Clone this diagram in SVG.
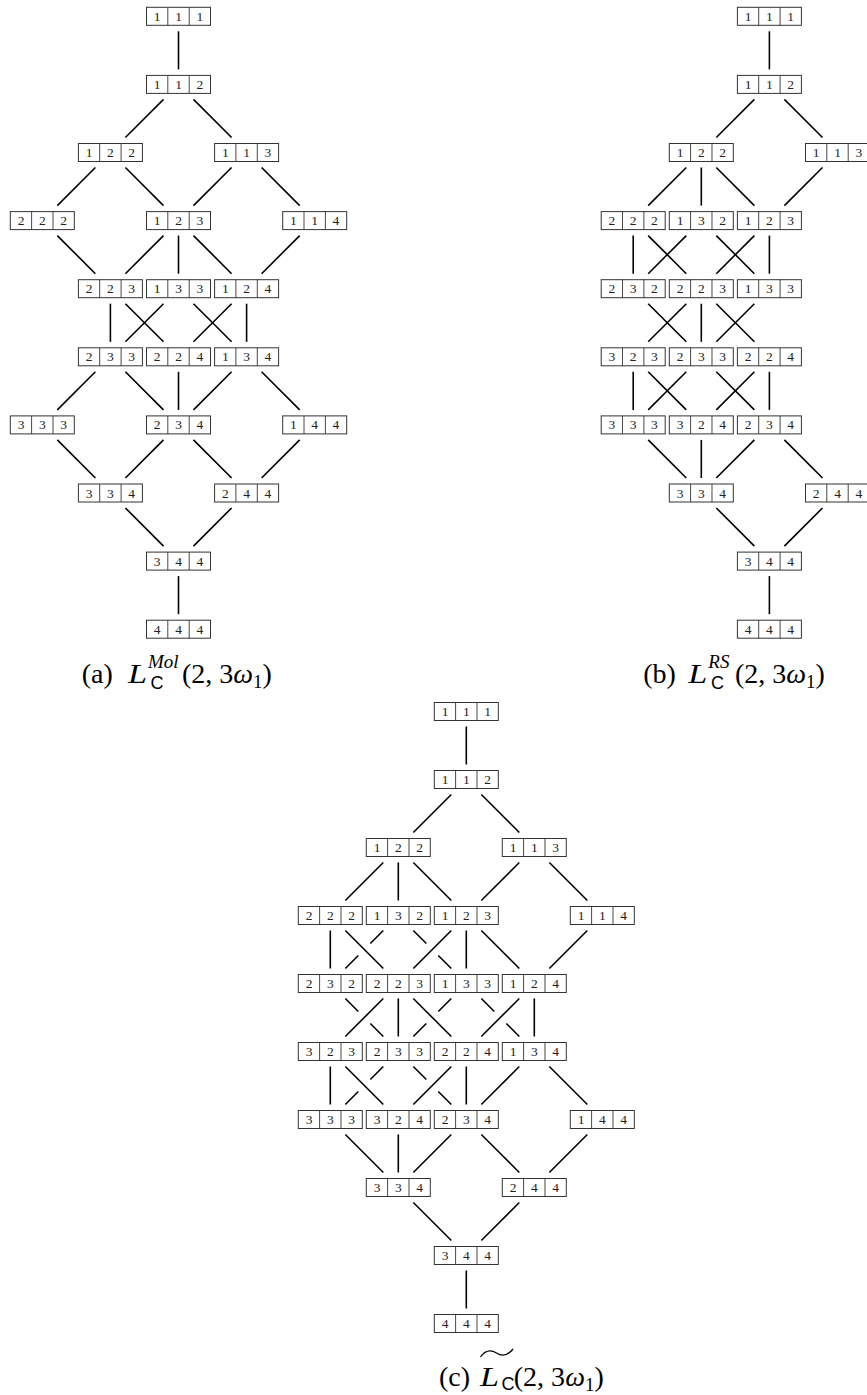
<svg xmlns="http://www.w3.org/2000/svg" xmlns:xlink="http://www.w3.org/1999/xlink" width="867" height="1395" viewBox="0 0 867 1395">
<style>
.bxr{fill:#fff;stroke:#333;stroke-width:1}
.bxd{stroke:#333;stroke-width:0.9;fill:none}
.n text{font-family:"Liberation Serif",serif;font-size:13.5px;text-anchor:middle;fill:#222}
.e line{stroke:#000;stroke-width:1.6;fill:none;stroke-linecap:butt}
.cap{font-family:"Liberation Serif",serif;font-size:28px;fill:#000}
.it{font-style:italic}
.sup{font-family:"Liberation Serif",serif;font-size:19px;font-style:italic;fill:#000}
.sub{font-family:"Liberation Sans",sans-serif;font-size:18px;fill:#000}
.tl{stroke:#000;stroke-width:1.3;fill:none}
</style>
<defs>
<g id="bx"><rect class="bxr" x="-32" y="-9" width="64" height="18"/><path class="bxd" d="M-10.7-9v18M10.7-9v18"/></g>
</defs>
<rect width="867" height="1395" fill="#fff"/>

<!-- ===== (a) connectors ===== -->
<g id="a-edges" class="e">
<line x1="178.5" y1="31.3" x2="178.5" y2="69.4"/>
<line x1="163.5" y1="99.4" x2="125.4" y2="137.5"/>
<line x1="193.5" y1="99.4" x2="231.6" y2="137.5"/>
<line x1="95.4" y1="167.5" x2="57.3" y2="205.6"/>
<line x1="125.4" y1="167.5" x2="163.5" y2="205.6"/>
<line x1="231.6" y1="167.5" x2="193.5" y2="205.6"/>
<line x1="261.6" y1="167.5" x2="299.7" y2="205.6"/>
<line x1="57.3" y1="235.6" x2="95.4" y2="273.7"/>
<line x1="163.5" y1="235.6" x2="125.4" y2="273.7"/>
<line x1="178.5" y1="235.6" x2="178.5" y2="273.7"/>
<line x1="193.5" y1="235.6" x2="231.6" y2="273.7"/>
<line x1="299.7" y1="235.6" x2="261.6" y2="273.7"/>
<line x1="110.4" y1="303.7" x2="110.4" y2="341.8"/>
<line x1="125.4" y1="303.7" x2="163.5" y2="341.8"/>
<line x1="163.5" y1="303.7" x2="125.4" y2="341.8"/>
<line x1="193.5" y1="303.7" x2="231.6" y2="341.8"/>
<line x1="231.6" y1="303.7" x2="193.5" y2="341.8"/>
<line x1="246.6" y1="303.7" x2="246.6" y2="341.8"/>
<line x1="95.4" y1="371.8" x2="57.3" y2="409.9"/>
<line x1="125.4" y1="371.8" x2="163.5" y2="409.9"/>
<line x1="178.5" y1="371.8" x2="178.5" y2="409.9"/>
<line x1="231.6" y1="371.8" x2="193.5" y2="409.9"/>
<line x1="261.6" y1="371.8" x2="299.7" y2="409.9"/>
<line x1="57.3" y1="439.9" x2="95.4" y2="478"/>
<line x1="163.5" y1="439.9" x2="125.4" y2="478"/>
<line x1="193.5" y1="439.9" x2="231.6" y2="478"/>
<line x1="299.7" y1="439.9" x2="261.6" y2="478"/>
<line x1="125.4" y1="508" x2="163.5" y2="546.1"/>
<line x1="231.6" y1="508" x2="193.5" y2="546.1"/>
<line x1="178.5" y1="576.1" x2="178.5" y2="614.2"/>
</g>

<!-- ===== (a) nodes ===== -->
<g id="a-111" class="n" transform="translate(178.5 16.3)"><use href="#bx"/><text x="-21.3 0 21.3" y="4.5">111</text></g>
<g id="a-112" class="n" transform="translate(178.5 84.4)"><use href="#bx"/><text x="-21.3 0 21.3" y="4.5">112</text></g>
<g id="a-122" class="n" transform="translate(110.4 152.5)"><use href="#bx"/><text x="-21.3 0 21.3" y="4.5">122</text></g>
<g id="a-113" class="n" transform="translate(246.6 152.5)"><use href="#bx"/><text x="-21.3 0 21.3" y="4.5">113</text></g>
<g id="a-222" class="n" transform="translate(42.3 220.6)"><use href="#bx"/><text x="-21.3 0 21.3" y="4.5">222</text></g>
<g id="a-123" class="n" transform="translate(178.5 220.6)"><use href="#bx"/><text x="-21.3 0 21.3" y="4.5">123</text></g>
<g id="a-114" class="n" transform="translate(314.7 220.6)"><use href="#bx"/><text x="-21.3 0 21.3" y="4.5">114</text></g>
<g id="a-223" class="n" transform="translate(110.4 288.7)"><use href="#bx"/><text x="-21.3 0 21.3" y="4.5">223</text></g>
<g id="a-133" class="n" transform="translate(178.5 288.7)"><use href="#bx"/><text x="-21.3 0 21.3" y="4.5">133</text></g>
<g id="a-124" class="n" transform="translate(246.6 288.7)"><use href="#bx"/><text x="-21.3 0 21.3" y="4.5">124</text></g>
<g id="a-233" class="n" transform="translate(110.4 356.8)"><use href="#bx"/><text x="-21.3 0 21.3" y="4.5">233</text></g>
<g id="a-224" class="n" transform="translate(178.5 356.8)"><use href="#bx"/><text x="-21.3 0 21.3" y="4.5">224</text></g>
<g id="a-134" class="n" transform="translate(246.6 356.8)"><use href="#bx"/><text x="-21.3 0 21.3" y="4.5">134</text></g>
<g id="a-333" class="n" transform="translate(42.3 424.9)"><use href="#bx"/><text x="-21.3 0 21.3" y="4.5">333</text></g>
<g id="a-234" class="n" transform="translate(178.5 424.9)"><use href="#bx"/><text x="-21.3 0 21.3" y="4.5">234</text></g>
<g id="a-144" class="n" transform="translate(314.7 424.9)"><use href="#bx"/><text x="-21.3 0 21.3" y="4.5">144</text></g>
<g id="a-334" class="n" transform="translate(110.4 493)"><use href="#bx"/><text x="-21.3 0 21.3" y="4.5">334</text></g>
<g id="a-244" class="n" transform="translate(246.6 493)"><use href="#bx"/><text x="-21.3 0 21.3" y="4.5">244</text></g>
<g id="a-344" class="n" transform="translate(178.5 561.1)"><use href="#bx"/><text x="-21.3 0 21.3" y="4.5">344</text></g>
<g id="a-444" class="n" transform="translate(178.5 629.2)"><use href="#bx"/><text x="-21.3 0 21.3" y="4.5">444</text></g>

<!-- (a) caption -->
<g id="cap-a">
<text class="cap" x="81.7" y="683">(a)</text>
<text class="cap it" x="128" y="683" textLength="19" lengthAdjust="spacingAndGlyphs">L</text>
<text class="sup" x="148" y="668">Mol</text>
<text class="sub" x="150.5" y="689">C</text>
<text class="cap" x="182" y="683">(2, 3<tspan class="it">ω</tspan><tspan font-size="19" dy="5">1</tspan><tspan dy="-5">)</tspan></text>
</g>

<!-- ===== (b) connectors ===== -->
<g id="b-edges" class="e">
<line x1="769.4" y1="31.3" x2="769.4" y2="69.4"/>
<line x1="754.4" y1="99.4" x2="716.3" y2="137.5"/>
<line x1="784.4" y1="99.4" x2="822.5" y2="137.5"/>
<line x1="686.3" y1="167.5" x2="648.2" y2="205.6"/>
<line x1="701.3" y1="167.5" x2="701.3" y2="205.6"/>
<line x1="716.3" y1="167.5" x2="754.4" y2="205.6"/>
<line x1="822.5" y1="167.5" x2="784.4" y2="205.6"/>
<line x1="633.2" y1="235.6" x2="633.2" y2="273.7"/>
<line x1="648.2" y1="235.6" x2="686.3" y2="273.7"/>
<line x1="686.3" y1="235.6" x2="648.2" y2="273.7"/>
<line x1="716.3" y1="235.6" x2="754.4" y2="273.7"/>
<line x1="754.4" y1="235.6" x2="716.3" y2="273.7"/>
<line x1="769.4" y1="235.6" x2="769.4" y2="273.7"/>
<line x1="648.2" y1="303.7" x2="686.3" y2="341.8"/>
<line x1="686.3" y1="303.7" x2="648.2" y2="341.8"/>
<line x1="701.3" y1="303.7" x2="701.3" y2="341.8"/>
<line x1="716.3" y1="303.7" x2="754.4" y2="341.8"/>
<line x1="754.4" y1="303.7" x2="716.3" y2="341.8"/>
<line x1="633.2" y1="371.8" x2="633.2" y2="409.9"/>
<line x1="648.2" y1="371.8" x2="686.3" y2="409.9"/>
<line x1="686.3" y1="371.8" x2="648.2" y2="409.9"/>
<line x1="716.3" y1="371.8" x2="754.4" y2="409.9"/>
<line x1="754.4" y1="371.8" x2="716.3" y2="409.9"/>
<line x1="769.4" y1="371.8" x2="769.4" y2="409.9"/>
<line x1="648.2" y1="439.9" x2="686.3" y2="478"/>
<line x1="701.3" y1="439.9" x2="701.3" y2="478"/>
<line x1="754.4" y1="439.9" x2="716.3" y2="478"/>
<line x1="784.4" y1="439.9" x2="822.5" y2="478"/>
<line x1="716.3" y1="508" x2="754.4" y2="546.1"/>
<line x1="822.5" y1="508" x2="784.4" y2="546.1"/>
<line x1="769.4" y1="576.1" x2="769.4" y2="614.2"/>
</g>

<!-- ===== (b) nodes ===== -->
<g id="b-111" class="n" transform="translate(769.4 16.3)"><use href="#bx"/><text x="-21.3 0 21.3" y="4.5">111</text></g>
<g id="b-112" class="n" transform="translate(769.4 84.4)"><use href="#bx"/><text x="-21.3 0 21.3" y="4.5">112</text></g>
<g id="b-122" class="n" transform="translate(701.3 152.5)"><use href="#bx"/><text x="-21.3 0 21.3" y="4.5">122</text></g>
<g id="b-113" class="n" transform="translate(837.5 152.5)"><use href="#bx"/><text x="-21.3 0 21.3" y="4.5">113</text></g>
<g id="b-222" class="n" transform="translate(633.2 220.6)"><use href="#bx"/><text x="-21.3 0 21.3" y="4.5">222</text></g>
<g id="b-132" class="n" transform="translate(701.3 220.6)"><use href="#bx"/><text x="-21.3 0 21.3" y="4.5">132</text></g>
<g id="b-123" class="n" transform="translate(769.4 220.6)"><use href="#bx"/><text x="-21.3 0 21.3" y="4.5">123</text></g>
<g id="b-232" class="n" transform="translate(633.2 288.7)"><use href="#bx"/><text x="-21.3 0 21.3" y="4.5">232</text></g>
<g id="b-223" class="n" transform="translate(701.3 288.7)"><use href="#bx"/><text x="-21.3 0 21.3" y="4.5">223</text></g>
<g id="b-133" class="n" transform="translate(769.4 288.7)"><use href="#bx"/><text x="-21.3 0 21.3" y="4.5">133</text></g>
<g id="b-323" class="n" transform="translate(633.2 356.8)"><use href="#bx"/><text x="-21.3 0 21.3" y="4.5">323</text></g>
<g id="b-233" class="n" transform="translate(701.3 356.8)"><use href="#bx"/><text x="-21.3 0 21.3" y="4.5">233</text></g>
<g id="b-224" class="n" transform="translate(769.4 356.8)"><use href="#bx"/><text x="-21.3 0 21.3" y="4.5">224</text></g>
<g id="b-333" class="n" transform="translate(633.2 424.9)"><use href="#bx"/><text x="-21.3 0 21.3" y="4.5">333</text></g>
<g id="b-324" class="n" transform="translate(701.3 424.9)"><use href="#bx"/><text x="-21.3 0 21.3" y="4.5">324</text></g>
<g id="b-234" class="n" transform="translate(769.4 424.9)"><use href="#bx"/><text x="-21.3 0 21.3" y="4.5">234</text></g>
<g id="b-334" class="n" transform="translate(701.3 493)"><use href="#bx"/><text x="-21.3 0 21.3" y="4.5">334</text></g>
<g id="b-244" class="n" transform="translate(837.5 493)"><use href="#bx"/><text x="-21.3 0 21.3" y="4.5">244</text></g>
<g id="b-344" class="n" transform="translate(769.4 561.1)"><use href="#bx"/><text x="-21.3 0 21.3" y="4.5">344</text></g>
<g id="b-444" class="n" transform="translate(769.4 629.2)"><use href="#bx"/><text x="-21.3 0 21.3" y="4.5">444</text></g>

<!-- (b) caption -->
<g id="cap-b">
<text class="cap" x="643.3" y="683">(b)</text>
<text class="cap it" x="688.3" y="683" textLength="19" lengthAdjust="spacingAndGlyphs">L</text>
<text class="sup" x="708.3" y="668">RS</text>
<text class="sub" x="711" y="689">C</text>
<text class="cap" x="735" y="683">(2, 3<tspan class="it">ω</tspan><tspan font-size="19" dy="5">1</tspan><tspan dy="-5">)</tspan></text>
</g>

<!-- ===== (c) connectors ===== -->
<g id="c-edges" class="e">
<line x1="466.3" y1="726.5" x2="466.3" y2="764.5"/>
<line x1="451.3" y1="794.5" x2="413.3" y2="832.5"/>
<line x1="481.3" y1="794.5" x2="519.3" y2="832.5"/>
<line x1="383.3" y1="862.5" x2="345.3" y2="900.5"/>
<line x1="398.3" y1="862.5" x2="398.3" y2="900.5"/>
<line x1="413.3" y1="862.5" x2="451.3" y2="900.5"/>
<line x1="519.3" y1="862.5" x2="481.3" y2="900.5"/>
<line x1="549.3" y1="862.5" x2="587.3" y2="900.5"/>
<!-- row 3 to 4 -->
<line x1="330.3" y1="930.5" x2="330.3" y2="968.5"/>
<line x1="345.3" y1="930.5" x2="383.3" y2="968.5"/>
<line x1="383.3" y1="930.5" x2="370.3" y2="943.5"/>
<line x1="358.3" y1="955.5" x2="345.3" y2="968.5"/>
<line x1="413.3" y1="930.5" x2="426.3" y2="943.5"/>
<line x1="438.3" y1="955.5" x2="451.3" y2="968.5"/>
<line x1="451.3" y1="930.5" x2="413.3" y2="968.5"/>
<line x1="466.3" y1="930.5" x2="466.3" y2="968.5"/>
<line x1="481.3" y1="930.5" x2="519.3" y2="968.5"/>
<line x1="587.3" y1="930.5" x2="549.3" y2="968.5"/>
<!-- row 4 to 5 -->
<line x1="345.3" y1="998.5" x2="358.3" y2="1011.5"/>
<line x1="370.3" y1="1023.5" x2="383.3" y2="1036.5"/>
<line x1="383.3" y1="998.5" x2="345.3" y2="1036.5"/>
<line x1="398.3" y1="998.5" x2="398.3" y2="1036.5"/>
<line x1="413.3" y1="998.5" x2="451.3" y2="1036.5"/>
<line x1="451.3" y1="998.5" x2="438.3" y2="1011.5"/>
<line x1="426.3" y1="1023.5" x2="413.3" y2="1036.5"/>
<line x1="481.3" y1="998.5" x2="494.3" y2="1011.5"/>
<line x1="506.3" y1="1023.5" x2="519.3" y2="1036.5"/>
<line x1="519.3" y1="998.5" x2="481.3" y2="1036.5"/>
<line x1="534.3" y1="998.5" x2="534.3" y2="1036.5"/>
<!-- row 5 to 6 -->
<line x1="330.3" y1="1066.5" x2="330.3" y2="1104.5"/>
<line x1="345.3" y1="1066.5" x2="383.3" y2="1104.5"/>
<line x1="383.3" y1="1066.5" x2="370.3" y2="1079.5"/>
<line x1="358.3" y1="1091.5" x2="345.3" y2="1104.5"/>
<line x1="413.3" y1="1066.5" x2="426.3" y2="1079.5"/>
<line x1="438.3" y1="1091.5" x2="451.3" y2="1104.5"/>
<line x1="451.3" y1="1066.5" x2="413.3" y2="1104.5"/>
<line x1="466.3" y1="1066.5" x2="466.3" y2="1104.5"/>
<line x1="519.3" y1="1066.5" x2="481.3" y2="1104.5"/>
<line x1="549.3" y1="1066.5" x2="587.3" y2="1104.5"/>
<!-- row 6 down -->
<line x1="345.3" y1="1134.5" x2="383.3" y2="1172.5"/>
<line x1="398.3" y1="1134.5" x2="398.3" y2="1172.5"/>
<line x1="451.3" y1="1134.5" x2="413.3" y2="1172.5"/>
<line x1="481.3" y1="1134.5" x2="519.3" y2="1172.5"/>
<line x1="587.3" y1="1134.5" x2="549.3" y2="1172.5"/>
<line x1="413.3" y1="1202.5" x2="451.3" y2="1240.5"/>
<line x1="519.3" y1="1202.5" x2="481.3" y2="1240.5"/>
<line x1="466.3" y1="1270.5" x2="466.3" y2="1308.5"/>
</g>

<!-- ===== (c) nodes ===== -->
<g id="c-111" class="n" transform="translate(466.3 711.5)"><use href="#bx"/><text x="-21.3 0 21.3" y="4.5">111</text></g>
<g id="c-112" class="n" transform="translate(466.3 779.5)"><use href="#bx"/><text x="-21.3 0 21.3" y="4.5">112</text></g>
<g id="c-122" class="n" transform="translate(398.3 847.5)"><use href="#bx"/><text x="-21.3 0 21.3" y="4.5">122</text></g>
<g id="c-113" class="n" transform="translate(534.3 847.5)"><use href="#bx"/><text x="-21.3 0 21.3" y="4.5">113</text></g>
<g id="c-222" class="n" transform="translate(330.3 915.5)"><use href="#bx"/><text x="-21.3 0 21.3" y="4.5">222</text></g>
<g id="c-132" class="n" transform="translate(398.3 915.5)"><use href="#bx"/><text x="-21.3 0 21.3" y="4.5">132</text></g>
<g id="c-123" class="n" transform="translate(466.3 915.5)"><use href="#bx"/><text x="-21.3 0 21.3" y="4.5">123</text></g>
<g id="c-114" class="n" transform="translate(602.3 915.5)"><use href="#bx"/><text x="-21.3 0 21.3" y="4.5">114</text></g>
<g id="c-232" class="n" transform="translate(330.3 983.5)"><use href="#bx"/><text x="-21.3 0 21.3" y="4.5">232</text></g>
<g id="c-223" class="n" transform="translate(398.3 983.5)"><use href="#bx"/><text x="-21.3 0 21.3" y="4.5">223</text></g>
<g id="c-133" class="n" transform="translate(466.3 983.5)"><use href="#bx"/><text x="-21.3 0 21.3" y="4.5">133</text></g>
<g id="c-124" class="n" transform="translate(534.3 983.5)"><use href="#bx"/><text x="-21.3 0 21.3" y="4.5">124</text></g>
<g id="c-323" class="n" transform="translate(330.3 1051.5)"><use href="#bx"/><text x="-21.3 0 21.3" y="4.5">323</text></g>
<g id="c-233" class="n" transform="translate(398.3 1051.5)"><use href="#bx"/><text x="-21.3 0 21.3" y="4.5">233</text></g>
<g id="c-224" class="n" transform="translate(466.3 1051.5)"><use href="#bx"/><text x="-21.3 0 21.3" y="4.5">224</text></g>
<g id="c-134" class="n" transform="translate(534.3 1051.5)"><use href="#bx"/><text x="-21.3 0 21.3" y="4.5">134</text></g>
<g id="c-333" class="n" transform="translate(330.3 1119.5)"><use href="#bx"/><text x="-21.3 0 21.3" y="4.5">333</text></g>
<g id="c-324" class="n" transform="translate(398.3 1119.5)"><use href="#bx"/><text x="-21.3 0 21.3" y="4.5">324</text></g>
<g id="c-234" class="n" transform="translate(466.3 1119.5)"><use href="#bx"/><text x="-21.3 0 21.3" y="4.5">234</text></g>
<g id="c-144" class="n" transform="translate(602.3 1119.5)"><use href="#bx"/><text x="-21.3 0 21.3" y="4.5">144</text></g>
<g id="c-334" class="n" transform="translate(398.3 1187.5)"><use href="#bx"/><text x="-21.3 0 21.3" y="4.5">334</text></g>
<g id="c-244" class="n" transform="translate(534.3 1187.5)"><use href="#bx"/><text x="-21.3 0 21.3" y="4.5">244</text></g>
<g id="c-344" class="n" transform="translate(466.3 1255.5)"><use href="#bx"/><text x="-21.3 0 21.3" y="4.5">344</text></g>
<g id="c-444" class="n" transform="translate(466.3 1323.5)"><use href="#bx"/><text x="-21.3 0 21.3" y="4.5">444</text></g>

<!-- (c) caption -->
<g id="cap-c">
<text class="cap" x="439" y="1385.5">(c)</text>
<text class="cap it" x="480" y="1385.5" textLength="19" lengthAdjust="spacingAndGlyphs">L</text>
<path class="tl" d="M480.5 1357C485 1350.5 490 1349 496.5 1353S508 1355.5 513 1349"/>
<text class="sub" x="501.5" y="1390">C</text>
<text class="cap" x="513.8" y="1385.5">(2, 3<tspan class="it">ω</tspan><tspan font-size="19" dy="5">1</tspan><tspan dy="-5">)</tspan></text>
</g>
</svg>
